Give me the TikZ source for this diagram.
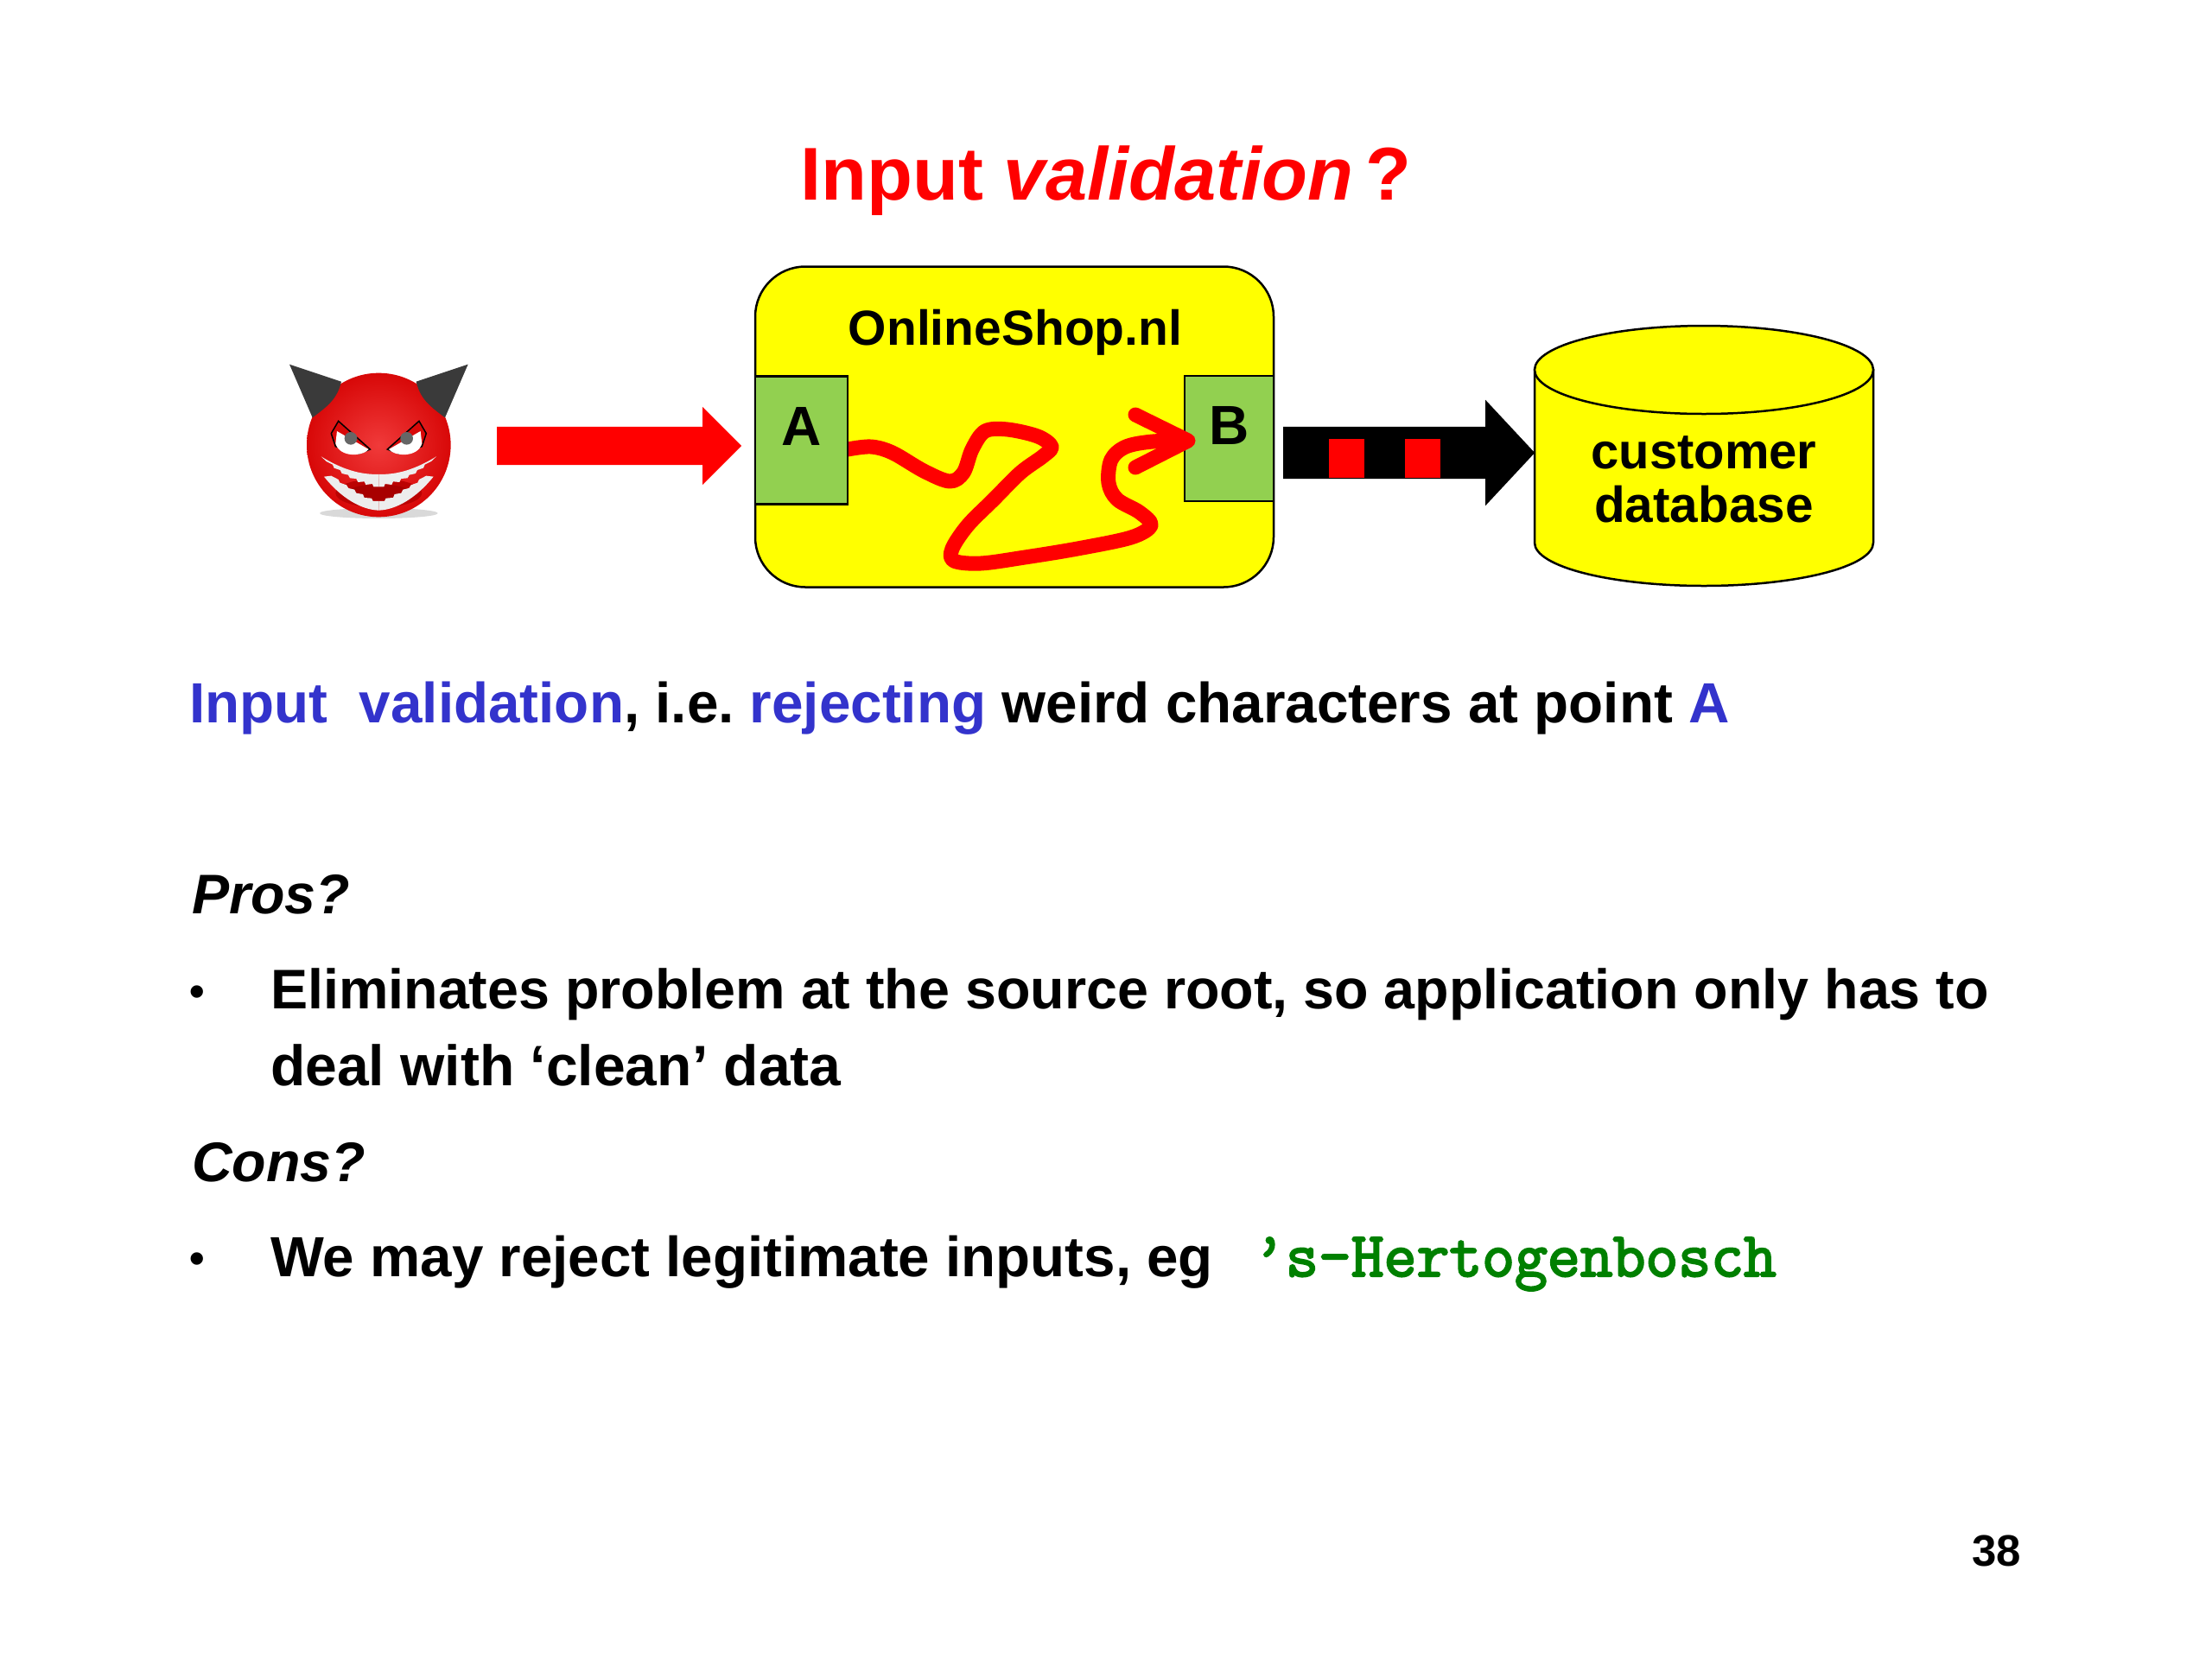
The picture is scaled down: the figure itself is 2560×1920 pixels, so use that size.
\documentclass[tikz,border=0pt]{standalone}
\usepackage{fontspec}
\setmainfont{Liberation Sans}
\newfontfamily\cityfont[FakeBold=3]{Latin Modern Mono}
\usepackage{xcolor}
\usetikzlibrary{shapes.arrows}
\definecolor{shopyellow}{HTML}{FFFF00}
\definecolor{portgreen}{HTML}{92D050}
\definecolor{inkblue}{HTML}{3333CC}
\definecolor{inkgreen}{HTML}{008000}
\definecolor{devilred}{HTML}{D80808}
\definecolor{devillight}{HTML}{F03A3A}
\definecolor{devildark}{HTML}{A80000}
\definecolor{horngrey}{HTML}{3A3A3A}
\definecolor{teethwhite}{HTML}{EDEDED}
\newcommand{\textsz}[1]{\fontsize{#1}{#1}\selectfont\bfseries}

\tikzset{
  bodytext/.style={anchor=base west,inner sep=0pt,font=\textsz{64.6}},
  boxlabel/.style={anchor=base,inner sep=0pt,font=\textsz{57}},
  bulletmark/.style={anchor=base,inner sep=0pt,font=\textsz{50}},
  portbox/.style={draw=black,line width=2.5pt,fill=portgreen,inner sep=0pt},
  blockarrow/.style={single arrow,anchor=tail,inner xsep=0pt,single arrow head indent=0pt},
  packet/.style={fill=red,minimum width=41pt,minimum height=45pt,inner sep=0pt},
  worm/.style={red,line width=17pt,line cap=round,line join=round}
}

\begin{document}
\frenchspacing
\begin{tikzpicture}[x=1pt,y=-1pt]
\useasboundingbox (0,0) rectangle (2560,1920);

\node[anchor=base west,inner sep=0pt,red,font=\textsz{86.6}] (title) at (926,231) {Input \textit{validation}\,?};

% the devil
\begin{scope}[shift={(320,400)},x=0.3333pt,y=-0.3333pt]
\fill[black!15] (355,582) ellipse [x radius=205,y radius=18];
\shade[inner color=devillight,outer color=devilred] (355,345) circle [radius=250];
\fill[devildark!60!devilred] (355,512) ellipse [x radius=150,y radius=50];
\fill[devildark] (355,510) ellipse [x radius=110,y radius=28];
\foreach \flip in {1,-1} {
  \begin{scope}[shift={(355,0)},xscale=\flip]
  \fill[horngrey] (-310,65) -- (-130,125) .. controls (-145,190) and (-185,215) .. (-230,250) -- cycle;
  \draw[black,line width=1.5pt,fill=devilred] (-165,305) -- (-140,262) -- (-30,360) -- (-70,375) -- (-150,350) -- cycle;
  \fill[white] (-145,297) -- (-35,360) .. controls (-55,385) and (-135,390) .. (-150,340) -- cycle;
  \fill[black!60] (-97,322) circle [radius=22];
  \fill[teethwhite] (-200,385) .. controls (-110,440) and (-50,447) .. (0,447) -- (0,490) -- (-18,490) -- (-22,480) -- (-45,483) -- (-50,472) -- (-72,474) -- (-78,462) -- (-100,460) -- (-106,449) -- (-128,444) -- (-134,432) -- (-155,425) -- (-160,413) -- (-182,402) -- cycle;
  \fill[teethwhite] (-190,455) .. controls (-130,530) and (-60,570) .. (0,572) -- (0,540) -- (-20,540) -- (-25,530) -- (-50,528) -- (-55,516) -- (-78,512) -- (-84,500) -- (-105,495) -- (-112,484) -- (-135,476) -- (-140,465) -- (-165,452) -- cycle;
  \end{scope}
}
\end{scope}

\node[blockarrow,fill=red,inner ysep=22pt,minimum height=283pt,minimum width=90pt,single arrow head extend=23pt,single arrow tip angle=90] (attack) at (575,516) {};

% the shop
\node[draw=black,line width=2.5pt,fill=shopyellow,rounded corners=58pt,minimum width=600pt,minimum height=371pt,inner sep=0pt] (shop) at (1174,494) {};
\node[boxlabel] (shopname) at (1175,399) {OnlineShop.nl};
\coordinate (wormin) at (981,520);
\coordinate (wormout) at (1375,510);
\draw[worm] plot[smooth,tension=0.55] coordinates {(wormin) (1008,517) (1033,524) (1069,545) (1099,557) (1115,547) (1125,520) (1140,499) (1166,497) (1201,505) (1217,517) (1207,528) (1181,547) (1150,578) (1120,608) (1102,635) (1104,649) (1135,652) (1186,645) (1247,635) (1309,622) (1332,608) (1319,593) (1293,578) (1283,559) (1286,532) (1303,517) (1334,511) (wormout)};
\node[portbox,minimum width=107pt,minimum height=148pt] (porta) at (927.5,509.5) {};
\node[portbox,minimum width=103pt,minimum height=145pt] (portb) at (1422.5,507.5) {};
\draw[worm] (1314,480) -- (wormout) -- (1314,541);
\node[boxlabel,font=\textsz{64}] (labela) at (928,515) {A};
\node[boxlabel,font=\textsz{64}] (labelb) at (1423,514) {B};

% the dirty data
\node[blockarrow,fill=black,inner ysep=30pt,minimum height=291pt,minimum width=122pt,single arrow head extend=31pt,single arrow tip angle=94] (dirty) at (1485,524) {};
\node[packet] (packetone) at (1558.5,530) {};
\node[packet] (packettwo) at (1646.5,530) {};

% the database
\draw[line width=2.5pt,fill=shopyellow] (1776,428) -- (1776,628) arc[start angle=180,end angle=0,x radius=196,y radius=50] -- (2168,428) -- cycle;
\draw[line width=2.5pt,fill=shopyellow] (1972,428) ellipse [x radius=196,y radius=51];
\node[boxlabel,font=\textsz{58}] (customer) at (1972,542) {customer};
\node[boxlabel,font=\textsz{58.5}] (database) at (1972,604) {database};

\node[bodytext,font=\textsz{65.6}] (intro) at (219,836) {\textcolor{inkblue}{Input\ \ validation}, i.e. \textcolor{inkblue}{rejecting} weird characters at point \textcolor{inkblue}{A}};
\node[bodytext] (pros) at (222,1057) {\textit{Pros?}};
\node[bulletmark] (bulletone) at (228,1164) {•};
\node[bodytext] (proline) at (313,1167) {Eliminates problem at the source root, so application only has to};
\node[bodytext,font=\textsz{66}] (proinfo) at (313,1256) {deal with ‘clean’ data};
\node[bodytext] (cons) at (222,1367) {\textit{Cons?}};
\node[bulletmark] (bullettwo) at (228,1473) {•};
\node[bodytext,font=\textsz{65.5}] (conline) at (313,1477) {We may reject legitimate inputs, eg};
\node[anchor=base west,inner sep=0pt,inkgreen,font=\fontsize{73.5}{73.5}\selectfont\cityfont] (city) at (1450,1477) {’s-Hertogenbosch};

\node[anchor=base east,inner sep=0pt,font=\textsz{51}] (pagenum) at (2339,1812) {38};
\end{tikzpicture}
\end{document}
